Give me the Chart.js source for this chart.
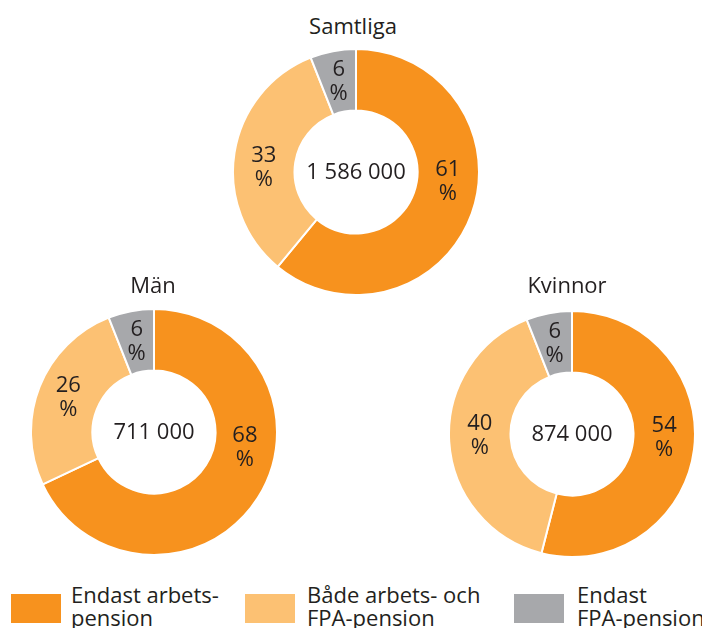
<!DOCTYPE html>
<html>
<head>
<meta charset="utf-8">
<script src="https://cdn.jsdelivr.net/npm/chart.js@4.4.1/dist/chart.umd.min.js"></script>
<style>
  html, body { margin: 0; padding: 0; background: #fff; }
  body { width: 702px; height: 628px; overflow: hidden; position: relative; font-family: "Open Sans", sans-serif; color: #231f20; }
  canvas { position: absolute; }
  .title { position: absolute; width: 200px; text-align: center; font-size: 22px; line-height: 30px; }
  .sw { position: absolute; width: 50px; height: 29px; }
  .lt { position: absolute; font-size: 22px; line-height: 23px; white-space: nowrap; }
</style>
</head>
<body>
<script>
// ---- data ----
const categories = ['Endast arbetspension', 'Både arbets- och FPA-pension', 'Endast FPA-pension'];
const legendLines = [['Endast arbets-', 'pension'], ['Både arbets- och', 'FPA-pension'], ['Endast', 'FPA-pension']];
const groups = ['Samtliga', 'Män', 'Kvinnor'];
const totals = ['1 586 000', '711 000', '874 000'];
const samtliga = [61, 33, 6];
const man = [68, 26, 6];
const kvinnor = [54, 40, 6];
const seriesValues = [samtliga, man, kvinnor];

// ---- style ----
const colors = ['#F7921E', '#FCC173', '#A7A8AB'];
const layout = [
  { left: 232, top: 48, titleLeft: 253, titleTop: 10 },
  { left: 30, top: 308, titleLeft: 53, titleTop: 269 },
  { left: 448, top: 310, titleLeft: 467, titleTop: 269 }
];
const legendPos = [ { sw: 11, tx: 71 }, { sw: 245, tx: 307 }, { sw: 514, tx: 577 } ];

const labelPlugin = {
  id: 'sliceLabels',
  afterDatasetsDraw(chart, args, opts) {
    const ctx = chart.ctx;
    const meta = chart.getDatasetMeta(0);
    const data = chart.data.datasets[0].data;
    const total = data.reduce((a, b) => a + b, 0);
    ctx.save();
    ctx.fillStyle = '#231f20';
    ctx.textAlign = 'center';
    ctx.textBaseline = 'middle';
    ctx.font = '22px "Open Sans"';
    let cx = 0, cy = 0;
    meta.data.forEach((arc, i) => {
      const p = arc.getProps(['x', 'y', 'startAngle', 'endAngle', 'innerRadius', 'outerRadius'], true);
      cx = p.x; cy = p.y;
      let mid = (p.startAngle + p.endAngle) / 2;
      const frac = data[i] / total;
      if (frac >= 0.3) {
        // pull label of large slices toward the horizontal
        const a = ((mid % (2 * Math.PI)) + 2 * Math.PI) % (2 * Math.PI);
        const target = (a > Math.PI / 2 && a < 3 * Math.PI / 2) ? Math.PI : (a >= 3 * Math.PI / 2 ? 2 * Math.PI : 0);
        mid = a + (target - a) * 0.7;
      }
      const r = (p.innerRadius + p.outerRadius) / 2;
      const x = p.x + Math.cos(mid) * r;
      const y = p.y + Math.sin(mid) * r;
      ctx.fillText(String(data[i]), x, y - 12);
      ctx.fillText('%', x, y + 12);
    });
    ctx.fillText(opts.text, cx, cy + 1);
    ctx.restore();
  }
};

groups.forEach((g, gi) => {
  const L = layout[gi];
  const t = document.createElement('div');
  t.className = 'title';
  t.style.left = L.titleLeft + 'px';
  t.style.top = L.titleTop + 'px';
  t.textContent = g;
  document.body.appendChild(t);

  const c = document.createElement('canvas');
  c.width = 248; c.height = 248;
  c.style.left = L.left + 'px';
  c.style.top = L.top + 'px';
  document.body.appendChild(c);

  new Chart(c, {
    type: 'doughnut',
    data: {
      labels: categories,
      datasets: [{
        data: seriesValues[gi],
        backgroundColor: colors,
        borderColor: '#ffffff',
        borderWidth: 2,
        hoverOffset: 0
      }]
    },
    options: {
      responsive: false,
      animation: false,
      cutout: '50%',
      layout: { padding: 0 },
      plugins: {
        legend: { display: false },
        tooltip: { enabled: false },
        sliceLabels: { text: totals[gi] }
      }
    },
    plugins: [labelPlugin]
  });
});

categories.forEach((cat, i) => {
  const s = document.createElement('div');
  s.className = 'sw';
  s.style.left = legendPos[i].sw + 'px';
  s.style.top = '594px';
  s.style.background = colors[i];
  document.body.appendChild(s);
  const tx = document.createElement('div');
  tx.className = 'lt';
  tx.style.left = legendPos[i].tx + 'px';
  tx.style.top = '583px';
  tx.innerHTML = legendLines[i].join('<br>');
  tx.title = cat;
  document.body.appendChild(tx);
});
</script>
</body>
</html>
